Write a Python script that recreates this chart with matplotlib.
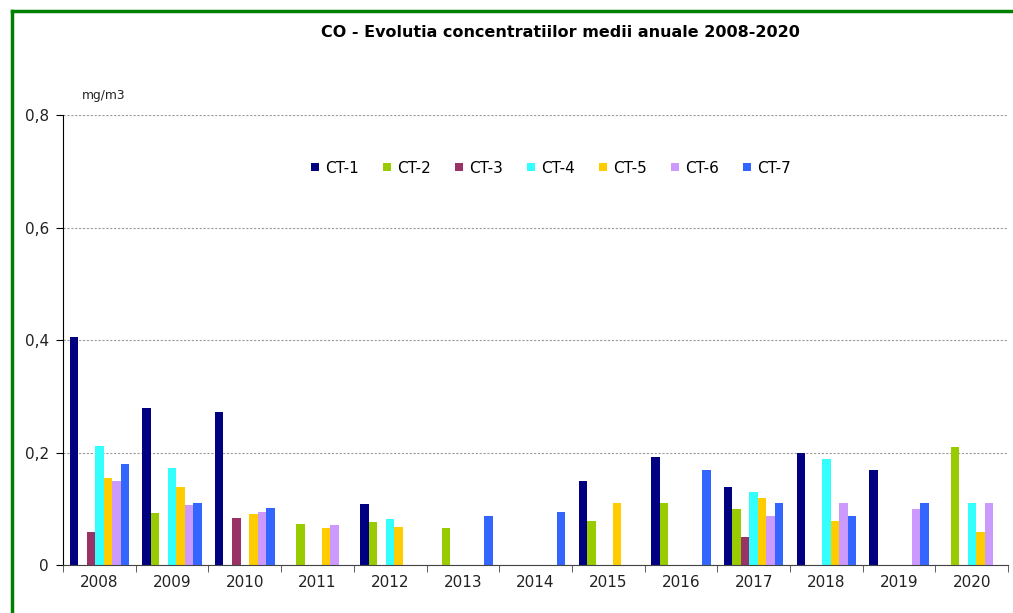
import numpy as np
import matplotlib
matplotlib.use("Agg")
import matplotlib.pyplot as plt
from matplotlib.lines import Line2D

plt.rcParams['font.family'] = ['DejaVu Sans']

years = ['2008', '2009', '2010', '2011', '2012', '2013', '2014',
         '2015', '2016', '2017', '2018', '2019', '2020']
series = ['CT-1', 'CT-2', 'CT-3', 'CT-4', 'CT-5', 'CT-6', 'CT-7']
nan = np.nan

# concentratii medii anuale CO (mg/m3), nan = lipsa date
ct1 = [0.405, 0.280, 0.272, nan, 0.108, nan, nan, 0.150, 0.192, 0.139, 0.199, 0.169, nan]
ct2 = [nan, 0.093, nan, 0.073, 0.076, 0.066, nan, 0.078, 0.110, 0.100, nan, nan, 0.209]
ct3 = [0.059, nan, 0.083, nan, nan, nan, nan, nan, nan, 0.049, nan, nan, nan]
ct4 = [0.212, 0.173, nan, nan, 0.082, nan, nan, nan, nan, 0.129, 0.189, nan, 0.110]
ct5 = [0.155, 0.139, 0.090, 0.066, 0.067, nan, nan, 0.110, nan, 0.119, 0.078, nan, 0.059]
ct6 = [0.150, 0.107, 0.095, 0.071, nan, nan, nan, nan, nan, 0.087, 0.110, 0.099, 0.110]
ct7 = [0.179, 0.110, 0.101, nan, nan, 0.087, 0.095, nan, 0.169, 0.110, 0.087, 0.110, nan]

colors = ['#000080', '#99CC00', '#993366', '#33FFFF', '#FFCC00', '#CC99FF', '#3366FF']

fig = plt.figure(figsize=(10.13, 6.13), dpi=100)
ax = fig.add_axes([0.0622, 0.0783, 0.933, 0.734])

x = np.arange(len(years))
w = 0.117
data = [ct1, ct2, ct3, ct4, ct5, ct6, ct7]
for i, (vals, c) in enumerate(zip(data, colors)):
    ax.bar(x + (i - 3) * w, np.array(vals, dtype=float), w, color=c, linewidth=0)

ax.set_xlim(-0.5, len(years) - 0.5)
ax.set_ylim(0, 0.8)
ax.set_yticks([0, 0.2, 0.4, 0.6, 0.8])
ax.set_yticklabels(['0', '0,2', '0,4', '0,6', '0,8'], fontsize=11, color='#222222')
ax.set_xticks(x)
ax.set_xticklabels(years, fontsize=11, color='#222222')
ax.set_xticks(np.arange(-0.5, len(years), 1), minor=True)
ax.tick_params(axis='x', which='major', length=0, pad=7)
ax.tick_params(axis='x', which='minor', length=5, direction='out', color='#444444')
ax.tick_params(axis='y', length=5, direction='out', pad=5)
ax.yaxis.grid(True, linestyle=(0, (2, 1.5)), color='#999999', linewidth=0.8)
ax.set_axisbelow(True)
for s in ['top', 'right']:
    ax.spines[s].set_visible(False)
ax.spines['left'].set_color('black')
ax.spines['bottom'].set_color('#444444')

ax.text(0.02, 1.035, 'mg/m3', transform=ax.transAxes, fontsize=8.8, color='#222222')

fig.text(0.553, 0.947, 'CO - Evolutia concentratiilor medii anuale 2008-2020',
         ha='center', va='center', fontsize=11.5, fontweight='bold')

handles = [Line2D([], [], marker='s', linestyle='', markersize=5.5,
                  markerfacecolor=c, markeredgewidth=0) for c in colors]
ax.legend(handles, series, ncol=7, loc='center', bbox_to_anchor=(0.516, 0.882),
          frameon=False, fontsize=11, handlelength=0.6, handletextpad=0.4,
          columnspacing=1.5)

# cadru verde
fig.add_artist(Line2D([0.0115, 0.0115], [0.0, 0.982], transform=fig.transFigure,
                      color='#008000', linewidth=2.5))
fig.add_artist(Line2D([0.0115, 1.0], [0.982, 0.982], transform=fig.transFigure,
                      color='#008000', linewidth=2.5))

fig.savefig('out.png', dpi=100)
